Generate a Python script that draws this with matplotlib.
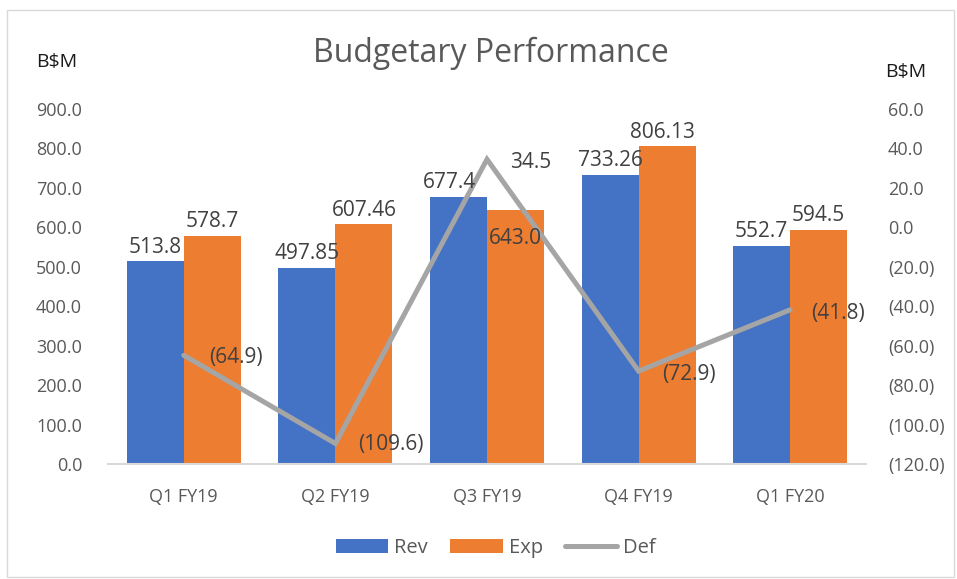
import matplotlib.pyplot as plt
import numpy as np
from matplotlib.patches import Rectangle

# data
quarters = ['Q1 FY19', 'Q2 FY19', 'Q3 FY19', 'Q4 FY19', 'Q1 FY20']
rev = [513.8, 497.85, 677.4, 733.26, 552.7]
exp = [578.7, 607.46, 643.0, 806.13, 594.5]
deficit = [-64.9, -109.6, 34.5, -72.9, -41.8]
rev_labels = ['513.8', '497.85', '677.4', '733.26', '552.7']
exp_labels = ['578.7', '607.46', '643.0', '806.13', '594.5']

plt.rcParams['font.family'] = ['Open Sans', 'DejaVu Sans']
text_color = '#595959'
label_color = '#404040'
W, H = 957, 579
px = 0.72  # points per pixel at dpi 100

fig = plt.figure(figsize=(W / 100, H / 100), dpi=100)
# outer chart border
fig.patches.append(Rectangle((7 / W, 2 / H), 947 / W, 567 / H, transform=fig.transFigure,
                             fill=False, edgecolor='#d9d9d9', linewidth=1))
ax = fig.add_axes([108 / W, 1 - 464 / H, 758 / W, 355 / H])
ax2 = ax.twinx()

x = np.arange(len(quarters))
w = 0.376
bars_rev = ax.bar(x - w / 2, rev, w, color='#4472C4', label='Rev')
bars_exp = ax.bar(x + w / 2, exp, w, color='#ED7D31', label='Exp')
line_def, = ax2.plot(x, deficit, color='#A5A5A5', linewidth=3.6, label='Def',
                     solid_capstyle='round', solid_joinstyle='miter')

ax.set_xlim(-0.5, len(quarters) - 0.5)
ax.set_ylim(0, 900)
ax2.set_ylim(-120, 60)
ax.set_yticks(np.arange(0, 901, 100))
ax2.set_yticks(np.arange(-120, 61, 20))
ax.set_yticklabels([f'{v:.1f}' for v in np.arange(0, 901, 100)])
ax2.set_yticklabels([f'({abs(v):.1f})' if v < 0 else f'{v:.1f}' for v in np.arange(-120, 61, 20)])
ax.set_xticks(x)
ax.set_xticklabels(quarters)

for a in (ax, ax2):
    for s in a.spines.values():
        s.set_visible(False)
    a.tick_params(length=0, labelsize=13, colors=text_color)
ax.spines['bottom'].set_visible(True)
ax.spines['bottom'].set_color('#d9d9d9')
ax.spines['bottom'].set_linewidth(1.5)
ax.tick_params(axis='y', pad=26 * px)
ax.tick_params(axis='x', pad=17)
ax2.tick_params(axis='y', pad=22 * px)

# bar labels, drawn on ax2 so they sit above the line
rev_dx = [0, 0, -9, 0, 0]
exp_dx = [0, 0, 0, -5, 0]
for i in range(len(quarters)):
    ax2.annotate(rev_labels[i], (x[i] - w / 2, rev[i]), xycoords=ax.transData,
                 xytext=(rev_dx[i] * px, 14 * px), textcoords='offset points',
                 ha='center', va='center', fontsize=15, color=label_color)
    dy = -28 if i == 2 else 14
    ax2.annotate(exp_labels[i], (x[i] + w / 2, exp[i]), xycoords=ax.transData,
                 xytext=(exp_dx[i] * px, dy * px), textcoords='offset points',
                 ha='center', va='center', fontsize=15, color=label_color)

def fmt(v):
    return f'({abs(v):.1f})' if v < 0 else f'{v:.1f}'

def_offsets = [(25, -2), (23, -1), (23, -3), (24, -3), (21, -4)]
for i, v in enumerate(deficit):
    ox, oy = def_offsets[i]
    ax2.annotate(fmt(v), (x[i], v), xytext=(ox * px, oy * px), textcoords='offset points',
                 ha='left', va='center', fontsize=15, color=label_color)

fig.text(491 / W, 1 - 53 / H, 'Budgetary Performance', ha='center', va='center',
         fontsize=23, color=text_color)
fig.text(57 / W, 1 - 62 / H, 'B$M', ha='center', va='center', fontsize=14, color='#1a1a1a')
fig.text(906 / W, 1 - 72 / H, 'B$M', ha='center', va='center', fontsize=14, color='#1a1a1a')

fig.legend(handles=[bars_rev, bars_exp, line_def], loc='center', bbox_to_anchor=(496 / W, 1 - 548 / H),
           ncol=3, frameon=False, fontsize=14.5, labelcolor=text_color,
           handlelength=2.6, handleheight=0.67, columnspacing=1.1, handletextpad=0.3)

fig.savefig('out.png', dpi=100)
